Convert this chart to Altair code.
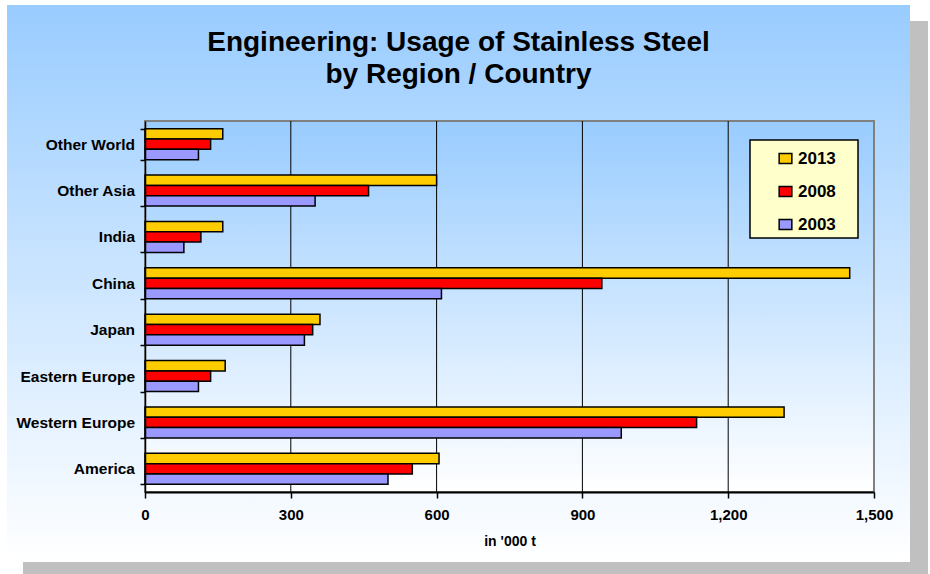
import altair as alt
import pandas as pd

# ---- data -------------------------------------------------------------
REGIONS = ["Other World", "Other Asia", "India", "China", "Japan",
           "Eastern Europe", "Western Europe", "America"]
YEARS = ["2013", "2008", "2003"]
USAGE_2013 = [160, 600, 160, 1450, 360, 165, 1315, 605]
USAGE_2008 = [135, 460, 115, 940, 345, 135, 1135, 550]
USAGE_2003 = [110, 350, 80, 610, 328, 110, 980, 500]
YEAR_COLORS = ["#FFCC00", "#FF0000", "#9999FF"]
X_TICKS = [0, 300, 600, 900, 1200, 1500]
GRID_VALUES = [300, 600, 900, 1200]
TITLE_LINES = ["Engineering: Usage of Stainless Steel", "by Region / Country"]
X_TITLE = "in '000 t"

# ---- layout (pixels) --------------------------------------------------
W, H = 729, 371          # plot area
LEFT, TOP = 145, 121     # plot area origin on the page
PAGE_W, PAGE_H = 930, 574
FONT = "Liberation Sans"

rows = []
for year, series in zip(YEARS, [USAGE_2013, USAGE_2008, USAGE_2003]):
    for region, v in zip(REGIONS, series):
        rows.append({"region": region, "year": year, "value": v})
df = pd.DataFrame(rows)
grid_df = pd.DataFrame({"value": GRID_VALUES})
one = pd.DataFrame({"k": [0]})

x_scale = alt.Scale(domain=[0, 1500], nice=False, zero=True)


def vgrad(top_color, bottom_color):
    return alt.Gradient(
        gradient="linear", x1=0, x2=0, y1=0, y2=1,
        stops=[alt.GradientStop(color=top_color, offset=0),
               alt.GradientStop(color=bottom_color, offset=1)],
    )


# drop shadow and panel behind the whole chart
shadow = alt.Chart(one).mark_rect(fill="#C0C0C0").encode(
    x=alt.value(23 - LEFT), x2=alt.value(928 - LEFT),
    y=alt.value(21 - TOP), y2=alt.value(580 - TOP),
)
panel = alt.Chart(one).mark_rect(fill=vgrad("#99CCFF", "#FFFFFF")).encode(
    x=alt.value(7 - LEFT), x2=alt.value(910 - LEFT),
    y=alt.value(5 - TOP), y2=alt.value(562 - TOP),
)
plot_bg = alt.Chart(one).mark_rect(fill=vgrad("#99CCFF", "#FFFFFF")).encode(
    x=alt.value(0), x2=alt.value(W), y=alt.value(0), y2=alt.value(H),
)
plot_border = alt.Chart(one).mark_rect(
    fill="transparent", stroke="#808080", strokeWidth=2
).encode(x=alt.value(0), x2=alt.value(W), y=alt.value(0), y2=alt.value(H))

grid = alt.Chart(grid_df).mark_rule(color="black", strokeWidth=1).encode(
    x=alt.X("value:Q", scale=x_scale),
    y=alt.value(0), y2=alt.value(H),
)

bars = alt.Chart(df).mark_bar(stroke="black", strokeWidth=1.5).encode(
    x=alt.X(
        "value:Q", scale=x_scale, title=X_TITLE,
        axis=alt.Axis(
            values=X_TICKS, format=",d", grid=False, zindex=1,
            labelFlush=False,
            labelFont=FONT, labelFontSize=15, labelFontWeight="bold",
            labelColor="black", labelPadding=9,
            domainColor="black", domainWidth=2,
            tickColor="black", tickWidth=1.5, tickSize=6,
            titleFont=FONT, titleFontSize=14, titleFontWeight="bold",
            titleColor="black", titleBaseline="alphabetic", titleY=53,
        ),
    ),
    y=alt.Y(
        "region:N", sort=REGIONS, title=None,
        scale=alt.Scale(paddingInner=0.33, paddingOuter=0.165),
        axis=alt.Axis(
            zindex=1, tickBand="extent",
            labelFont=FONT, labelFontSize=15.5, labelFontWeight="bold",
            labelColor="black", labelPadding=5.5,
            domainColor="black", domainWidth=1.5,
            tickColor="black", tickWidth=1.5, tickSize=5,
        ),
    ),
    yOffset=alt.YOffset("year:N", sort=YEARS,
                        scale=alt.Scale(paddingInner=0, paddingOuter=0)),
    color=alt.Color(
        "year:N", sort=YEARS,
        scale=alt.Scale(domain=YEARS, range=YEAR_COLORS),
        legend=alt.Legend(
            title=None, orient="none", legendX=632, legendY=29,
            padding=0, zindex=2,
            symbolType="M-1,-0.8H1V0.8H-1Z", symbolSize=161,
            symbolStrokeColor="black", symbolStrokeWidth=1.5,
            labelFont=FONT, labelFontSize=17, labelFontWeight="bold",
            labelColor="black", labelOffset=4, rowPadding=15,
        ),
    ),
)

legend_box = alt.Chart(one).mark_rect(
    fill="#FFFFCC", stroke="black", strokeWidth=1.5
).encode(
    x=alt.value(750 - LEFT), x2=alt.value(858 - LEFT),
    y=alt.value(140 - TOP), y2=alt.value(238 - TOP),
)

title_marks = [
    alt.Chart(one).mark_text(
        text=line, font=FONT, fontSize=28, fontWeight="bold", color="black",
        align="center", baseline="alphabetic",
    ).encode(x=alt.value(458.5 - LEFT), y=alt.value(base - TOP))
    for line, base in zip(TITLE_LINES, [50.7, 82.7])
]

chart = alt.layer(
    shadow, panel, plot_bg, plot_border, grid, bars, legend_box, *title_marks
).properties(
    width=W, height=H,
    autosize=alt.AutoSizeParams(type="none"),
    padding={"left": LEFT, "top": TOP,
             "right": PAGE_W - LEFT - W, "bottom": PAGE_H - TOP - H},
    background="white",
).configure_view(stroke=None).configure_axis(grid=False)

chart.save("out.html", embed_options={"renderer": "svg", "actions": False})
